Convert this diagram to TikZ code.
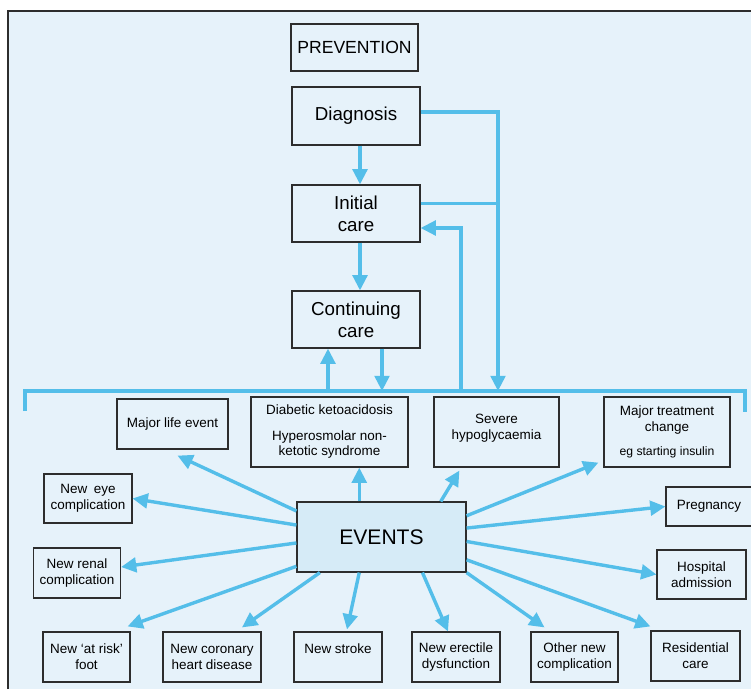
\documentclass[tikz,border=0pt]{standalone}
\usepackage{fontspec}
\setmainfont{Liberation Sans}
\usetikzlibrary{arrows.meta}
\definecolor{flowBlue}{RGB}{84,190,233}
\definecolor{paneBlue}{RGB}{230,242,250}
\definecolor{eventsFill}{RGB}{214,235,247}
\definecolor{boxLine}{RGB}{45,45,45}
\begin{document}
\begin{tikzpicture}[%
	x=0.03cm, y=-0.03cm,
	every node/.style = {shape=rectangle, draw=boxLine, line width=1pt, align=center, inner sep=0pt},
	boxSize/.style 2 args = {minimum width=#1*0.03cm, minimum height=#2*0.03cm},
	eventBox/.style = {font=\fontsize{11.5}{13.5}\selectfont},
	careBox/.style = {boxSize={128}{57}, font=\fontsize{16}{19}\selectfont},
	flowLine/.style = {draw=flowBlue, line width=2.9pt},
	flowArrow/.style = {flowLine, -{Triangle[length=13pt,width=12.5pt]}}
	]
  \useasboundingbox (0,0) rectangle (751,689);
  \fill[paneBlue] (8,11) rectangle (751,689);
  \draw[boxLine, line width=1.4pt] (8,689) -- (8,11) -- (751,11);

  \node[careBox, boxSize={127}{47}, font=\fontsize{15}{18}\selectfont] (prev) at (354.5,47.5) {PREVENTION};
  \node[careBox, boxSize={128}{58}] (diag) at (356,116) {Diagnosis};
  \node[careBox] (init) at (356,213.5) {Initial\\care};
  \node[careBox] (cont) at (356,319.5) {Continuing\\care};
  \node[eventBox, boxSize={169}{70}, fill=eventsFill, font=\fontsize{18}{21}\selectfont] (ev) at (381.5,537) {EVENTS};

  \node[eventBox, boxSize={111}{50}] (mle) at (172.5,424) {Major life event};
  \node[eventBox, boxSize={157}{70}] (dka) at (329.5,432) {Diabetic ketoacidosis\\[8pt]Hyperosmolar non-\\ketotic syndrome};
  \node[eventBox, boxSize={125}{70}] (hypo) at (496.5,432) {Severe\\hypoglycaemia\\[-4pt]\mbox{}};
  \node[eventBox, boxSize={126}{70}] (mtc) at (667,432) {Major treatment\\change\\[7pt]{\fontsize{10.4}{12}\selectfont eg starting insulin}};
  \node[eventBox, boxSize={88}{49}] (eye) at (88,498.5) {New\enspace eye\\complication};
  \node[eventBox, boxSize={87}{50}] (renal) at (77,573) {New renal\\complication};
  \node[eventBox, boxSize={87}{50}] (foot) at (86.5,657) {New ‘at risk’\\foot};
  \node[eventBox, boxSize={98}{50}] (chd) at (212,657) {New coronary\\heart disease};
  \node[eventBox, boxSize={88}{50}] (stroke) at (338,657) {New stroke\\\mbox{}};
  \node[eventBox, boxSize={88}{50}] (ed) at (456,657) {New erectile\\dysfunction};
  \node[eventBox, boxSize={87}{50}] (other) at (574.5,657) {Other new\\complication};
  \node[eventBox, boxSize={89}{50}] (resid) at (695.5,656) {Residential\\care};
  \node[eventBox, boxSize={89}{49}] (hosp) at (701.5,574.5) {Hospital\\admission};
  \node[eventBox, boxSize={86}{39}] (preg) at (709,506.5) {Pregnancy};

  \coordinate (spine) at (360,0);
  \coordinate (up) at (328,391);
  \coordinate (down) at (382,391);
  \coordinate (back) at (461,391);
  \coordinate (rail) at (498,391);
  \coordinate (initJoin) at ([shift={(0,-10)}]init.east);

  \draw[flowLine] (25,411) |- (745,391) -- (745,412);
  \draw[flowArrow] (diag.south -| spine) -- (init.north -| spine);
  \draw[flowArrow] (init.south -| spine) -- (cont.north -| spine);
  \draw[flowArrow] ([shift={(0,-4)}]diag.east) -| (rail);
  \draw[flowLine] (initJoin) -- (initJoin -| rail);
  \draw[flowArrow] (back) |- ([shift={(0,14.5)}]init.east);
  \draw[flowArrow] (up) -- (up |- cont.south);
  \draw[flowArrow] (cont.south -| down) -- (down);

  \draw[flowArrow] (ev.163) -- ([shift={(5,6)}]mle.south);
  \draw[flowArrow] (ev.172) -- (eye.east);
  \draw[flowArrow] (ev.184) -- ([shift={(0,-6)}]renal.east);
  \draw[flowArrow] (ev.199) -- ([shift={(-3,-5)}]foot.north east);
  \draw[flowArrow] (ev.210) -- ([shift={(30,-4)}]chd.north);
  \draw[flowArrow] (ev.238) -- ([shift={(9,-2)}]stroke.north);
  \draw[flowArrow] (ev.319) -- ([shift={(-8,0)}]ed.north);
  \draw[flowArrow] (ev.south east) -- ([shift={(-30,-4)}]other.north);
  \draw[flowArrow] (ev.345) -- ([shift={(0,-4)}]resid.north west);
  \draw[flowArrow] (ev.357) -- (hosp.west);
  \draw[flowArrow] (ev.6) -- (preg.west);
  \draw[flowArrow] (ev.14) -- ([shift={(-5,-5)}]mtc.south west);
  \draw[flowArrow] (ev.31) -- ([shift={(26,3)}]hypo.south west);
  \draw[flowArrow] (ev.122) -- (ev.122 |- dka.south);
\end{tikzpicture}
\end{document}
